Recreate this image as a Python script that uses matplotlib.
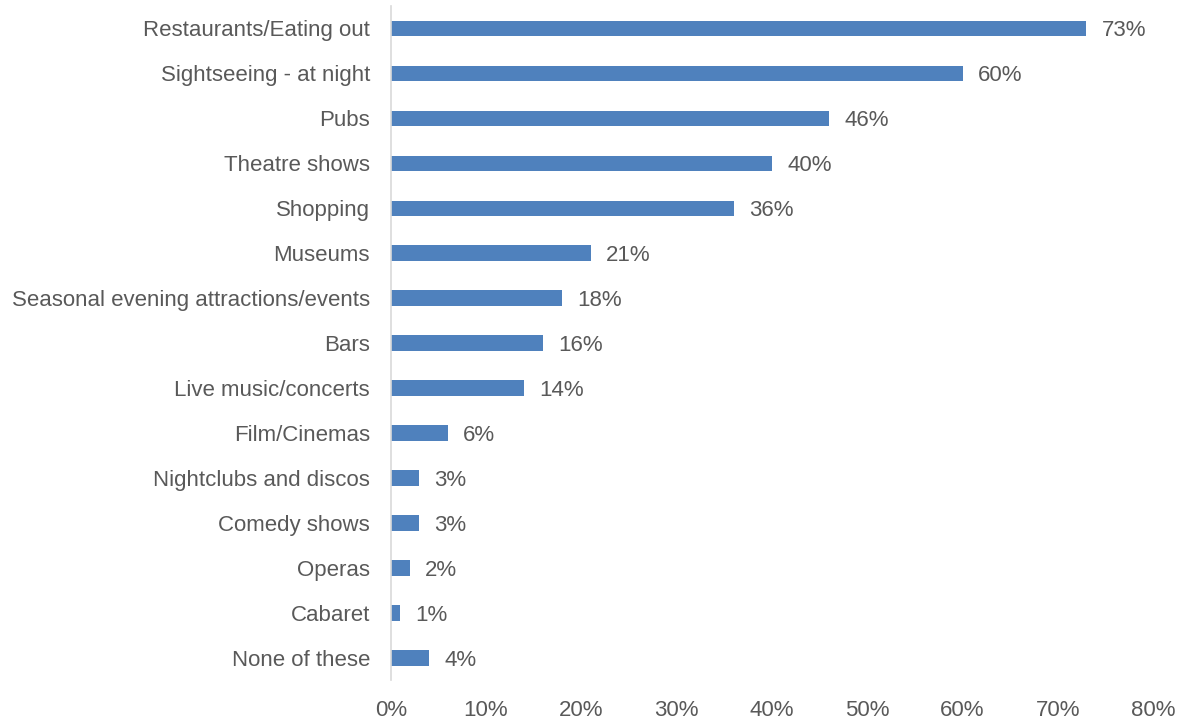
import matplotlib
matplotlib.use('Agg')
import matplotlib.pyplot as plt
from matplotlib.ticker import FuncFormatter

categories = ['Restaurants/Eating out', 'Sightseeing - at night', 'Pubs', 'Theatre shows',
              'Shopping', 'Museums', 'Seasonal evening attractions/events', 'Bars',
              'Live music/concerts', 'Film/Cinemas', 'Nightclubs and discos',
              'Comedy shows', 'Operas', 'Cabaret', 'None of these']
values = [0.73, 0.60, 0.46, 0.40, 0.36, 0.21, 0.18, 0.16, 0.14, 0.06, 0.03, 0.03, 0.02, 0.01, 0.04]
x_ticks = [0, 0.1, 0.2, 0.3, 0.4, 0.5, 0.6, 0.7, 0.8]

plt.rcParams['font.family'] = ['Liberation Sans', 'DejaVu Sans']
text_col = '#595959'
bar_col = '#4F81BD'

fig = plt.figure(figsize=(11.84, 7.2), dpi=100)
ax = fig.add_axes([0.330, 0.055, 0.644, 0.937])

pos = list(range(len(categories)))
ax.barh(pos, values, height=0.34, color=bar_col)
for p, v in zip(pos, values):
    ax.text(v + 0.016, p + 0.05, f'{round(v * 100)}%', va='center', ha='left',
            fontsize=16, color=text_col)

ax.set_ylim(len(categories) - 0.5, -0.5)
ax.set_xlim(0, 0.8)
ax.set_yticks(pos)
ax.set_yticklabels(categories, fontsize=16, color=text_col)
ax.set_xticks(x_ticks)
ax.xaxis.set_major_formatter(FuncFormatter(lambda x, _: f'{round(x * 100)}%'))
ax.tick_params(axis='x', labelsize=16, labelcolor=text_col, length=0, pad=14)
ax.tick_params(axis='y', length=0, pad=15)

for s in ['top', 'right', 'bottom']:
    ax.spines[s].set_visible(False)
ax.spines['left'].set_color('#D9D9D9')
ax.spines['left'].set_linewidth(1.2)

fig.savefig('out.png', dpi=100)
